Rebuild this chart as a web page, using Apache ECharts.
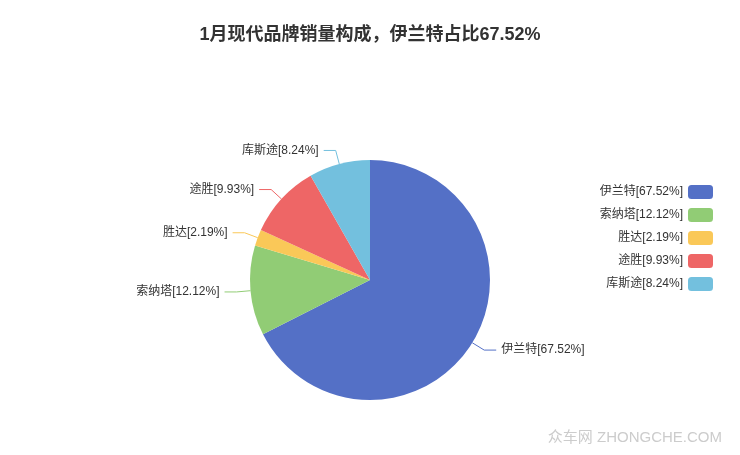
<!DOCTYPE html>
<html><head><meta charset="utf-8">
<script src="https://cdn.jsdelivr.net/npm/echarts@6/dist/echarts.min.js"></script>
<style>html,body{margin:0;padding:0;background:#fff}#c{width:740px;height:455px}</style>
</head><body><div id="c"></div>
<script>
const titleText = '1月现代品牌销量构成，伊兰特占比67.52%';
const categories = ['伊兰特', '索纳塔', '胜达', '途胜', '库斯途'];
const shares = [67.52, 12.12, 2.19, 9.93, 8.24];
const colors = ['#5470c6', '#91cc75', '#fac858', '#ee6666', '#73c0de'];

const FF = '"Liberation Sans", "Noto Sans CJK SC", sans-serif';
const chart = echarts.init(document.getElementById('c'));
const data = categories.map((n, i) => ({ name: n, value: shares[i] }));
const pctMap = {};
categories.forEach((n, i) => pctMap[n] = shares[i].toFixed(2));
chart.setOption({
  color: colors,
  title: {
    text: titleText, left: 'center', top: 21,
    textStyle: { fontSize: 18, fontWeight: 'bold', color: '#333', fontFamily: FF }
  },
  legend: {
    orient: 'vertical', right: 22, top: 180, align: 'right',
    itemWidth: 25, itemHeight: 14, itemGap: 9,
    textStyle: { fontSize: 12, color: '#333', fontFamily: FF },
    formatter: n => n + '[' + pctMap[n] + '%]'
  },
  series: [{
    type: 'pie', center: [370, 280], radius: 120,
    startAngle: 90, clockwise: true,
    data: data,
    label: { formatter: '{b}[{d}%]', fontSize: 12, color: '#333', fontFamily: FF },
    labelLine: { length: 14, length2: 12 },
    itemStyle: { borderColor: '#fff', borderWidth: 0 }
  }],
  graphic: [{
    type: 'text', right: 18, top: 430,
    style: { text: '众车网 ZHONGCHE.COM', fontSize: 15, fill: '#ccc', fontFamily: FF }
  }]
});
</script></body></html>
